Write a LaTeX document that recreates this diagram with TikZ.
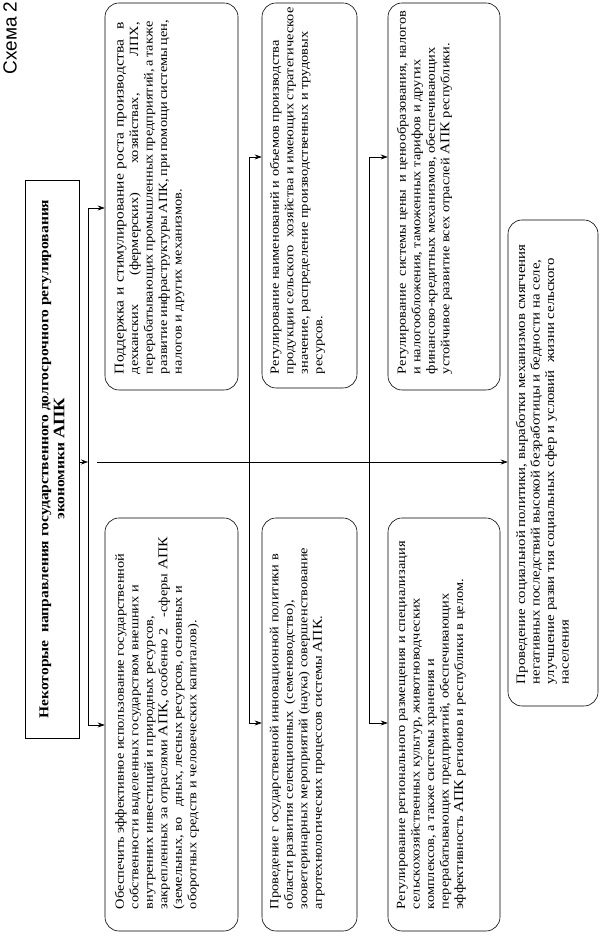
\documentclass[tikz,border=0pt]{standalone}
\usepackage{fontspec}
\setmainfont{Liberation Serif}
\newfontfamily\bodyfont{Liberation Serif}[FakeStretch=1.15]
\newfontfamily\titlefont{Liberation Serif}[FakeStretch=1.15]
\newfontfamily\schemafont{Liberation Sans}
\usetikzlibrary{calc,arrows.meta}
\newcommand\apk{{\fontsize{13.5}{14.5}\selectfont АПК}}
\begin{document}
\begin{tikzpicture}[x=1pt,y=1pt,
  boxshape/.style={draw, rounded corners=14pt, rotate=90, inner sep=0pt, line width=0.6pt},
  txt/.style={rotate=90, anchor=north west, inner sep=0pt, align=left, font=\bodyfont\fontsize{12.5}{14.5}\selectfont},
  arr/.style={-{Stealth[length=7pt,width=5pt]}, line width=0.6pt},
  ln/.style={line width=0.6pt}]
\useasboundingbox (0,0) rectangle (600,936);

% caption
\node[rotate=90, inner sep=0pt, font=\schemafont\fontsize{19}{19}\selectfont] (cap) at (10,898) {Схема 2};

% title
\node[draw, rotate=90, minimum width=558pt, minimum height=54pt, inner sep=0pt, line width=0.6pt, align=center,
      font=\titlefont\bfseries\fontsize{13.5}{16}\selectfont] (title) at (52,477)
  {Некоторые \ направления государственного долгосрочного регулирования\\ экономики {\fontsize{16}{16}\selectfont АПК}};

% row 1
\node[boxshape, minimum width=387pt, minimum height=133pt] (b1R) at (171.5,739.5) {};
\node[txt] (t1R) at ($(b1R.north west)+(10,16)$) {%
\makebox[352pt][s]{\fontsize{13.5}{14.5}\selectfont Поддержка и стимулирование роста производства \ в}\\
\makebox[352pt][l]{дехканских\hspace{2.3em}(фермерских)\hspace{2.3em}хозяйствах,\hfill ЛПХ,}\\
\makebox[352pt][s]{перерабатывающих промышленных предприятий, а также}\\
\makebox[352pt][s]{развитие инфраструктуры АПК, при помощи системы цен,}\\
налогов и других механизмов.};

\node[boxshape, minimum width=413pt, minimum height=133pt] (b1L) at (171.5,211.5) {};
\node[txt] (t1L) at ($(b1L.north west)+(10,22)$) {%
Обеспечить эффективное использование государственной\\
собственности выделенных государством внешних и\\
внутренних инвестиций и природных ресурсов,\\
закрепленных за отраслями \apk, особенно 2 \ \ -сферы \apk\\
(земельных, во \ \ дных, лесных ресурсов, основных и\\
оборотных средств и человеческих капиталов).};

% row 2
\node[boxshape, minimum width=385pt, minimum height=95pt] (b2R) at (309.5,740.5) {};
\node[txt] (t2R) at ($(b2R.north west)+(8,14)$) {%
Регулирование наименований и объемов производства\\
продукции сельского \ хозяйства и имеющих стратегическое\\
значение, распределение производственных и трудовых\\
ресурсов.};

\node[boxshape, minimum width=413pt, minimum height=95pt] (b2L) at (309.5,211.5) {};
\node[txt] (t2L) at ($(b2L.north west)+(8,22)$) {%
Проведение г осударственной инновационной политики в\\
области развития селекционных \ (семеноводство),\\
зооветеринарных мероприятий (наука) совершенствование\\
агротехнологических процессов системы \apk.};

% row 3
\node[boxshape, minimum width=387pt, minimum height=112pt] (b3R) at (444,739.5) {};
\node[txt] (t3R) at ($(b3R.north west)+(9,16)$) {%
Регулирование \ системы цены \ и ценообразования, налогов\\
и налогообложения, таможенных тарифов и других\\
финансово-кредитных механизмов, обеспечивающих\\
устойчивое развитие всех отраслей \apk\ республики.};

\node[boxshape, minimum width=413pt, minimum height=112pt] (b3L) at (444,211.5) {};
\node[txt] (t3L) at ($(b3L.north west)+(9,22)$) {%
Регулирование регионального размещения и специализация\\
сельскохозяйственных культур, животноводческих\\
комплексов, а также системы хранения и\\
перерабатывающих предприятий, обеспечивающих\\
эффективность \apk\ регионов и республики в целом.};

% bottom
\node[boxshape, minimum width=486pt, minimum height=90pt] (bot) at (553,473) {};
\node[txt, font=\bodyfont\fontsize{12.9}{14.5}\selectfont] (tb) at ($(bot.north west)+(8,22)$) {%
Проведение социальной политики, выработки механизмов смягчения\\
негативных последствий высокой безработицы и бедности на селе,\\
улучшение разви тия социальных сфер и условий \ жизни сельского\\
населения};

% connectors
\coordinate (b1t) at (88,728);
\coordinate (b1b) at (88,211);
\coordinate (b2t) at (249,779);
\coordinate (b2b) at (249,213);
\coordinate (b3t) at (369,779);
\coordinate (b3b) at (369,213);
\coordinate (trs) at (97,474);

\draw[arr] (title.south |- trs) -- (b1t |- trs);
\draw[ln] (b1t) -- (b1b);
\draw[arr] (b1t) -- (b1t -| b1R.north);
\draw[arr] (b1b) -- (b1b -| b1L.north);

\draw[ln] (b2t) -- (b2b);
\draw[arr] (b2t) -- (b2t -| b2R.north);
\draw[arr] (b2b) -- (b2b -| b2L.north);

\draw[ln] (b3t) -- (b3b);
\draw[arr] (b3t) -- (b3t -| b3R.north);
\draw[arr] (b3b) -- (b3b -| b3L.north);

\draw[arr] (trs) -- (trs -| bot.north);
\end{tikzpicture}
\end{document}
